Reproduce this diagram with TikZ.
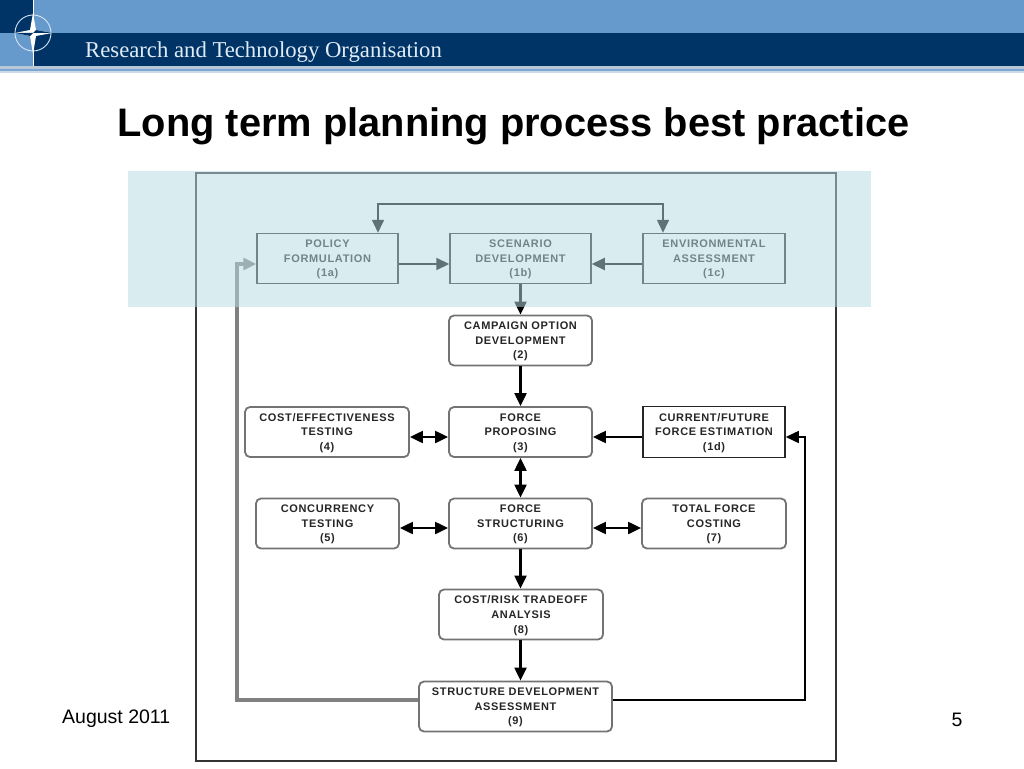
\documentclass[tikz,border=0pt]{standalone}
\usepackage{fontspec}
\setmainfont{Liberation Sans}
\newfontfamily\headfont{Liberation Serif}
\newfontfamily\boxfont[LetterSpace=6]{Liberation Sans Bold}
\usetikzlibrary{arrows.meta}
\definecolor{navy}{HTML}{003366}
\definecolor{skyblue}{HTML}{6699CC}
\definecolor{bandblue}{RGB}{183,219,227}

\begin{document}
\begin{tikzpicture}[x=1pt,y=-1pt]
\tikzstyle{every node}+=[inner sep=0pt]
\tikzstyle{plainbox}=[draw=black!85,line width=1.5pt,align=center,text=black!85,text depth=0pt,font=\boxfont\fontsize{11}{14.6}\selectfont,minimum height=50pt]
\tikzstyle{softbox}=[plainbox,draw=black!55,line width=1.8pt,rounded corners=5pt]
\tikzstyle{link}=[black,line width=2.1pt,-{Triangle[length=13pt,width=12pt]}]
\tikzstyle{twoway}=[link,{Triangle[length=13pt,width=12pt]}-{Triangle[length=13pt,width=12pt]}]
\useasboundingbox (0,0) rectangle (1024,768);
\fill [white] (0,0) rectangle (1024,768);
% header
\fill [skyblue] (0,0) rectangle (1024,33);
\fill [navy] (0,33) rectangle (1024,66);
\fill [navy] (0,0) rectangle (33,33);
\fill [skyblue] (0,33) rectangle (33,66);
\fill [black!25!skyblue!40] (0,66) rectangle (1024,69);
\fill [skyblue!85] (0,69) rectangle (1024,71);
\fill [black!15!skyblue!30] (0,71) rectangle (1024,72.5);
\draw [white,line width=0.8pt] (33,0) -- (33,66);
\draw [white!75!skyblue,line width=0.9pt] (33,33) circle (18);
\fill [white] (33,13) -- (36,30) -- (52,33) -- (36,36) -- (33,54) -- (30,36) -- (15,33) -- (30,30) -- cycle;
\fill [navy] (33,33) -- (36,30) -- (52,33) -- cycle;
\fill [navy] (33,33) -- (30,36) -- (15,33) -- cycle;
\node [anchor=west,text=white!80!skyblue,font=\headfont\fontsize{22.7}{23}\selectfont] (org) at (85,52) {Research and Technology Organisation};
% title and footer
\node [font=\bfseries\fontsize{39.8}{40}\selectfont] (title) at (513.5,126) {Long term planning process best practice};
\node [anchor=west,font=\fontsize{19.5}{20}\selectfont] (date) at (62,719) {August 2011};
\node [font=\fontsize{19.5}{20}\selectfont] (page) at (957,720) {5};
% frame
\draw [black!80,line width=2pt] (196,173) rectangle (836,761);
% boxes
\node [plainbox,minimum width=141pt] (pol) at (327.5,258.5) {POLICY\\FORMULATION\\(1a)};
\node [plainbox,minimum width=141pt] (scen) at (520.5,258.5) {SCENARIO\\DEVELOPMENT\\(1b)};
\node [plainbox,minimum width=142pt] (env) at (714,258.5) {ENVIRONMENTAL\\ASSESSMENT\\(1c)};
\node [softbox,minimum width=143pt] (camp) at (520.5,340.5) {CAMPAIGN OPTION\\DEVELOPMENT\\(2)};
\node [softbox,minimum width=143pt] (prop) at (520.5,432) {FORCE\\PROPOSING\\(3)};
\node [softbox,minimum width=164pt] (cost) at (327,432) {COST/EFFECTIVENESS\\TESTING\\(4)};
\node [plainbox,minimum width=142pt,minimum height=51pt] (cur) at (714,432) {CURRENT/FUTURE\\FORCE ESTIMATION\\(1d)};
\node [softbox,minimum width=143pt] (conc) at (327.5,523.5) {CONCURRENCY\\TESTING\\(5)};
\node [softbox,minimum width=143pt] (struc) at (520.5,523.5) {FORCE\\STRUCTURING\\(6)};
\node [softbox,minimum width=144pt] (tot) at (714,523.5) {TOTAL FORCE\\COSTING\\(7)};
\node [softbox,minimum width=164pt] (trade) at (521,614.5) {COST/RISK TRADEOFF\\ANALYSIS\\(8)};
\node [softbox,minimum width=193pt] (assess) at (515.5,706.5) {STRUCTURE DEVELOPMENT\\ASSESSMENT\\(9)};
% connectors
\draw [link] ([yshift=-5.5pt]pol.east) -- ([yshift=-5.5pt]scen.west);
\draw [link] ([yshift=-5.5pt]env.west) -- ([yshift=-5.5pt]scen.east);
\draw [link] (scen) -- (camp);
\draw [link] (camp) -- (prop);
\draw [link] ([yshift=-5pt]cur.west) -- ([yshift=-5pt]prop.east);
\draw [twoway] ([yshift=-5pt]cost.east) -- ([yshift=-5pt]prop.west);
\draw [twoway] (prop) -- (struc);
\draw [twoway] ([yshift=-4.5pt]conc.east) -- ([yshift=-4.5pt]struc.west);
\draw [twoway] ([yshift=-4.5pt]tot.west) -- ([yshift=-4.5pt]struc.east);
\draw [link] (struc) -- (struc |- trade.north);
\draw [link] (trade.south -| struc) -- (struc |- assess.north);
\coordinate (topleft) at (378,204);
\coordinate (topright) at (663,204);
\coordinate (backleft) at (237,700);
\coordinate (backright) at (805,700);
\draw [link,line width=1.6pt] (topright) -- (topleft) -- (topleft |- pol.north);
\draw [link,line width=1.6pt] (topleft) -- (topright) -- (topright |- env.north);
\draw [link,black!50,line width=3.1pt] ([yshift=6.5pt]assess.west) -- (backleft) |- ([yshift=-5.5pt]pol.west);
\draw [link,line width=1.5pt] ([yshift=6.5pt]assess.east) -- (backright) |- ([yshift=-5pt]cur.east);
% pale band lies over the diagram
\fill [bandblue,fill opacity=0.52] (128,171) rectangle (871,307);
\end{tikzpicture}
\end{document}
